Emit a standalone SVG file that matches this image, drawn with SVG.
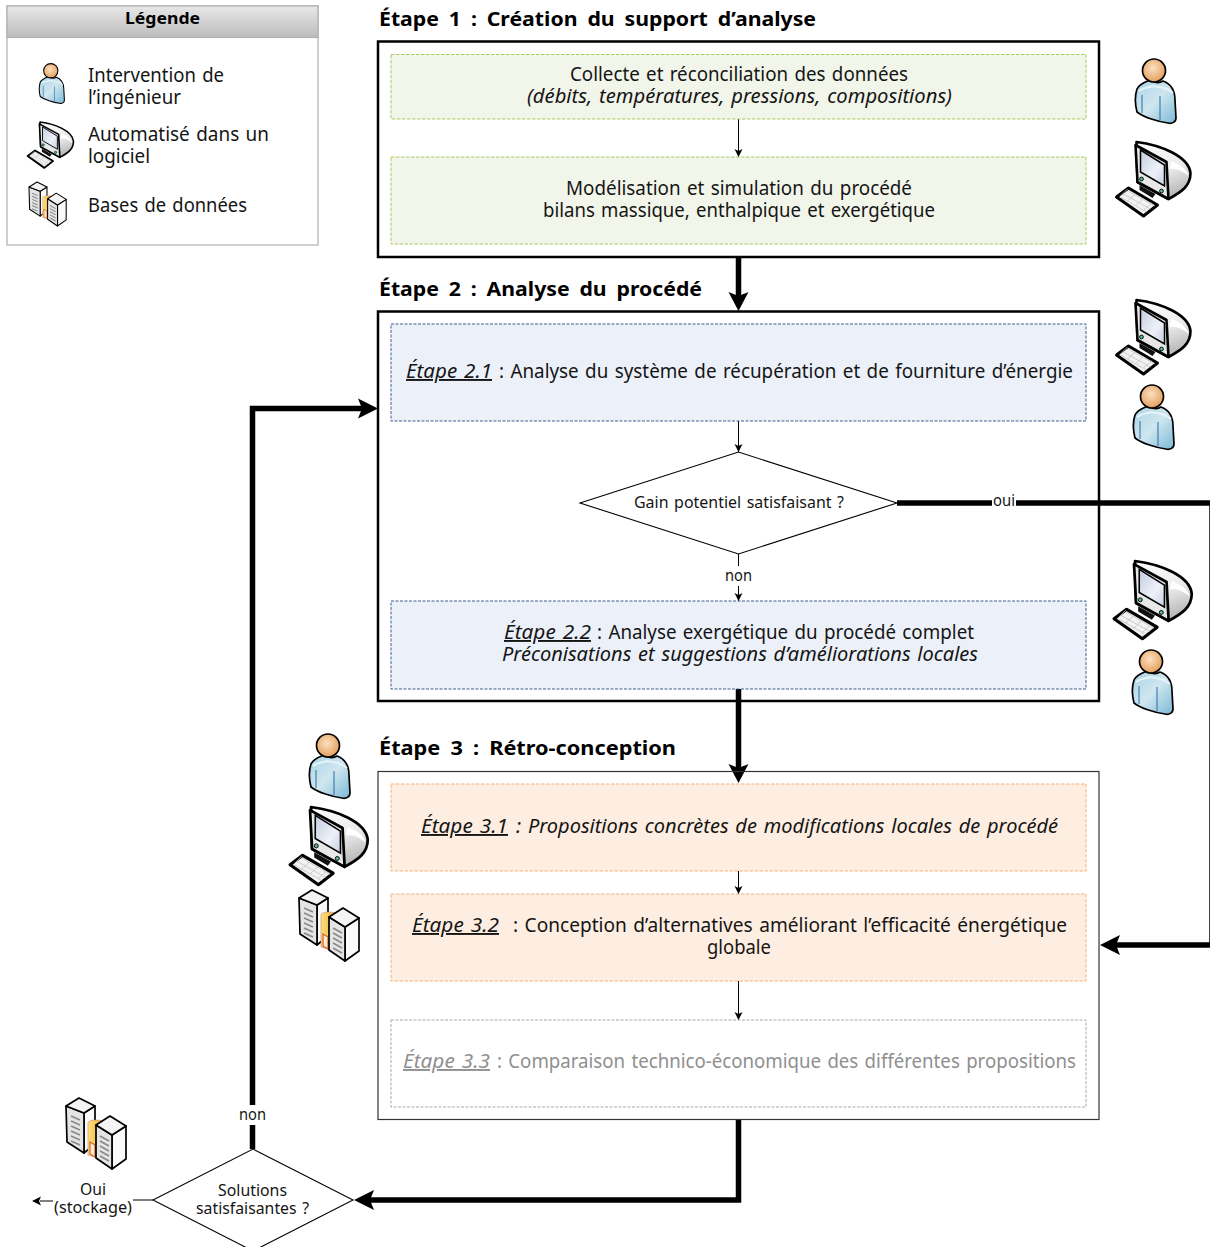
<svg xmlns="http://www.w3.org/2000/svg" width="1210" height="1247" viewBox="0 0 1210 1247">
<style>
text{font-family:"Noto Sans","DejaVu Sans",sans-serif;font-size:19px;fill:#151515;word-spacing:1.5px}
.h{font-weight:700;font-size:19.500px;word-spacing:4px;fill:#000}
.i{font-style:italic}
.u{font-style:italic;text-decoration:underline}
.s{font-size:16px}
.m{text-anchor:middle}
.g{fill:#8f8f8f}
.stage{fill:none;stroke:#000;stroke-width:2.500}
.gr{fill:#f2f5ea;stroke:#a9cc5f;stroke-width:1;stroke-dasharray:3.500 1.500}
.bl{fill:#ecf1f9;stroke:#3f5f90;stroke-width:1;stroke-dasharray:3 1.500}
.or{fill:#fdeee1;stroke:#f6b27a;stroke-width:1;stroke-dasharray:3.500 1.500}
.gy{fill:#fff;stroke:#aaa;stroke-width:1;stroke-dasharray:3 1.500}
.d{fill:#fff;stroke:#000;stroke-width:1.100}
.thin{fill:none;stroke:#000;stroke-width:1;marker-end:url(#a)}
.line{fill:none;stroke:#000;stroke-width:1}
.thick{fill:none;stroke:#000;stroke-width:5.500}
.big{fill:#000}
.o{stroke:#000;stroke-width:1.700;stroke-linejoin:round}
.slat{stroke:#8a8a8a;stroke-width:1.700;fill:none}
</style>
<defs>
<marker id="a" markerWidth="10" markerHeight="10" refX="8" refY="4" orient="auto" markerUnits="userSpaceOnUse"><path d="M0 0L8 4L0 8L2 4Z" fill="#000"/></marker>
<linearGradient id="hd" x1="0" y1="0" x2="0" y2="1"><stop offset="0" stop-color="#e8e8e8"/><stop offset="1" stop-color="#bcbcbc"/></linearGradient>
<radialGradient id="skin" cx=".45" cy=".4" r=".65"><stop offset="0" stop-color="#fbe0c0"/><stop offset="1" stop-color="#e39a55"/></radialGradient>
<linearGradient id="shirt" x1="0" y1="0" x2="1" y2="1"><stop offset="0" stop-color="#a9d4e6"/><stop offset=".5" stop-color="#cfe6ef"/><stop offset="1" stop-color="#7ab8d6"/></linearGradient>
<linearGradient id="shell" x1="0" y1="0" x2=".35" y2="1"><stop offset="0" stop-color="#fff"/><stop offset=".6" stop-color="#ececec"/><stop offset="1" stop-color="#bdbdbd"/></linearGradient>
<linearGradient id="scr" x1="0" y1="0" x2="1" y2="1"><stop offset="0" stop-color="#c3cbe0"/><stop offset=".6" stop-color="#eef1f8"/><stop offset="1" stop-color="#c6cfe2"/></linearGradient>
<linearGradient id="yel" x1="0" y1="0" x2="1" y2="0"><stop offset="0" stop-color="#fde07a"/><stop offset="1" stop-color="#f0a92c"/></linearGradient>
<symbol id="person" viewBox="0 0 42 66" width="42" height="66" overflow="visible">
<path class="o" fill="url(#shirt)" d="M2 31C4 26 10 24 15 22C20 25 25 25 28 23C36 26 40 32 40 42L41 60C41 64 37 66 33 65C24 64 8 59 2 54C0 46 0 37 2 31Z"/>
<path d="M4 33C10 28 14 30 18 28C24 30 30 28 38 35" stroke="#e6f3f8" stroke-width="2" fill="none"/>
<circle class="o" cx="19" cy="12.500" r="11.500" fill="url(#skin)"/>
<path d="M7 37V55M25 38V62" stroke="#2b6d9e" stroke-width="1" fill="none"/>
</symbol>
<symbol id="computer" viewBox="0 0 75 75" width="75" height="75" overflow="visible">
<path d="M1 55L13 46L42 63L28 74Z" fill="#f2f2f2" stroke="#000" stroke-width="3" stroke-linejoin="round"/>
<path d="M8 52L35 67M13 49L39 64M5 55L31 70M12 47L5 54M20 52L12 59M28 56L20 64M36 61L28 68" stroke="#c4c4c4" stroke-width=".8" fill="none"/>
<path d="M24 43L40 52L37 56L24 48Z" fill="#111"/>
<path d="M21 0C45 3 73 14 75 31C75 44 66 50 53 57L22 40Z" fill="url(#shell)" stroke="#000" stroke-width="2.600" stroke-linejoin="round"/>
<path d="M56 19C64 22 72 27 73 34C66 28 60 26 54 27Z" fill="#fff"/>
<path d="M20 3L51 20L53 57L22 40Z" fill="#e8e8e8" stroke="#000" stroke-width="2.600" stroke-linejoin="round"/>
<path d="M25 8L49 23L49 44L25 30Z" fill="url(#scr)" stroke="#000" stroke-width="1.500"/>
<circle cx="26" cy="37" r="1.900" fill="#5b9" stroke="#000" stroke-width=".9"/><circle cx="46" cy="49" r="1.900" fill="#5b9" stroke="#000" stroke-width=".9"/>
</symbol>
<symbol id="db" viewBox="0 0 60 72" width="60" height="72" overflow="visible">
<path class="o" fill="#fafafa" d="M18 15L29 8V46L18 55Z"/>
<path class="o" fill="#e4e4e4" d="M0 8L18 15V55L1 44Z"/>
<path class="o" fill="#f4f4f4" d="M0 8L13 0L29 8L18 15Z"/>
<path class="slat" d="M5 18L14 22M5 23L14 27M5 28L14 32M5 33L14 37M5 38L14 42M5 43L14 47"/>
<path d="M22 25C22 21 38 21 38 25V62L22 57Z" fill="url(#yel)" stroke="#b88" stroke-width=".6"/>
<path d="M24 44L29 47V59L24 56Z" fill="#fde9d0" stroke="#d8602a" stroke-width="1.200"/>
<path class="o" fill="#fafafa" d="M46 37L60 28V61L46 71Z"/>
<path class="o" fill="#e4e4e4" d="M30 27L46 37V71L30 60Z"/>
<path class="o" fill="#f4f4f4" d="M30 27L44 18L60 28L46 37Z"/>
<path class="slat" d="M34 38L43 43M34 43L43 48M34 48L43 53M34 53L43 58M34 58L43 63"/>
</symbol>
</defs>
<rect width="1210" height="1247" fill="#fff"/>

<g id="legend">
<rect x="7" y="6" width="311" height="239" fill="#fff" stroke="#b0b0b0" stroke-width="1.200"/>
<rect x="7" y="6" width="311" height="31.500" fill="url(#hd)" stroke="#b0b0b0" stroke-width="1.200"/>
<text class="h m" x="162.500" y="23.500" style="font-size:15.500px" textLength="75" lengthAdjust="spacingAndGlyphs">Légende</text>
<use href="#person" transform="translate(39,63) scale(.62)"/>
<use href="#computer" transform="translate(27,122) scale(.62)"/>
<use href="#db" transform="translate(29,182) scale(.62)"/>
<text x="88" y="82" textLength="136" lengthAdjust="spacingAndGlyphs">Intervention de</text>
<text x="88" y="104" textLength="93" lengthAdjust="spacingAndGlyphs">l’ingénieur</text>
<text x="88" y="141" textLength="181" lengthAdjust="spacingAndGlyphs">Automatisé dans un</text>
<text x="88" y="163" textLength="62" lengthAdjust="spacingAndGlyphs">logiciel</text>
<text x="88" y="212" textLength="159" lengthAdjust="spacingAndGlyphs">Bases de données</text>
</g>

<g id="connectors">
<path class="thin" d="M738.500 119V157"/>
<path class="thin" d="M738.500 421V452"/>
<path class="line" d="M738.500 554V566"/>
<path class="thin" d="M738.500 586V601"/>
<path class="thin" d="M738.500 871V894"/>
<path class="thin" d="M738.500 981V1020"/>
<path class="thick" d="M738.500 257V296"/><path class="big" d="M728.500 292L738.500 311L748.500 292L738.500 296Z"/>
<path class="thick" d="M738.500 689V768"/><path class="big" d="M728.500 764L738.500 783L748.500 764L738.500 768Z"/>
<path class="thick" d="M897 503H992"/>
<path class="thick" d="M1016 503H1212V945H1116"/><path class="big" d="M1120 935L1100 945L1120 955L1116 945Z"/>
<path class="thick" d="M252.500 1149V1125"/>
<path class="thick" d="M252.500 1105V408.500H362"/><path class="big" d="M358 398.500L378 408.500L358 418.500L362 408.500Z"/>
<path class="thick" d="M738.500 1119V1200H370"/><path class="big" d="M374 1190L354 1200L374 1210L370 1200Z"/>
<path class="line" d="M153 1200H133"/>
<path class="line" d="M53 1201H40"/><path class="big" d="M41 1196.500L32 1201L41 1205.500L39 1201Z"/>
</g>

<g id="stage1">
<text class="h" x="379" y="26" textLength="437" lengthAdjust="spacingAndGlyphs">Étape 1 : Création du support d’analyse</text>
<rect class="stage" x="378" y="41.500" width="721" height="215.500"/>
</g>
<g id="step-collect">
<rect class="gr" x="391" y="54.500" width="695" height="64.500"/>
<text x="570" y="81" textLength="338" lengthAdjust="spacingAndGlyphs">Collecte et réconciliation des données</text>
<text class="i" x="527" y="103" textLength="425" lengthAdjust="spacingAndGlyphs">(débits, températures, pressions, compositions)</text>
</g>
<g id="step-model">
<rect class="gr" x="391" y="157" width="695" height="87"/>
<text x="566" y="195" textLength="346" lengthAdjust="spacingAndGlyphs">Modélisation et simulation du procédé</text>
<text x="543" y="217" textLength="392" lengthAdjust="spacingAndGlyphs">bilans massique, enthalpique et exergétique</text>
</g>
<g id="stage2">
<text class="h" x="379" y="296" textLength="323" lengthAdjust="spacingAndGlyphs">Étape 2 : Analyse du procédé</text>
<rect class="stage" x="378" y="311.500" width="721" height="389.500"/>
</g>
<g id="step-2-1">
<rect class="bl" x="391" y="324" width="695" height="97"/>
<text class="u" x="406" y="378" textLength="86" lengthAdjust="spacingAndGlyphs">Étape 2.1</text>
<text x="499" y="378" textLength="574" lengthAdjust="spacingAndGlyphs">: Analyse du système de récupération et de fourniture d’énergie</text>
</g>
<g id="decision-gain">
<path class="d" d="M580 503L738.500 452L897 503L738.500 554Z"/>
<text x="634" y="508" style="font-size:16.500px" textLength="210" lengthAdjust="spacingAndGlyphs">Gain potentiel satisfaisant ?</text>
</g>
<text class="s" x="725" y="581" textLength="27" lengthAdjust="spacingAndGlyphs">non</text>
<text class="s" x="993" y="506" textLength="22" lengthAdjust="spacingAndGlyphs">oui</text>
<g id="step-2-2">
<rect class="bl" x="391" y="601" width="695" height="88"/>
<text class="u" x="504" y="639" textLength="87" lengthAdjust="spacingAndGlyphs">Étape 2.2</text>
<text x="597" y="639" textLength="377" lengthAdjust="spacingAndGlyphs">: Analyse exergétique du procédé complet</text>
<text class="i" x="502" y="661" textLength="476" lengthAdjust="spacingAndGlyphs">Préconisations et suggestions d’améliorations locales</text>
</g>
<g id="stage3">
<text class="h" x="379" y="755" textLength="297" lengthAdjust="spacingAndGlyphs">Étape 3 : Rétro-conception</text>
<rect x="378" y="771.500" width="721" height="348" fill="none" stroke="#333" stroke-width="1.200"/>
</g>
<g id="step-3-1">
<rect class="or" x="391" y="784" width="695" height="87"/>
<text class="u" x="421" y="833" textLength="87" lengthAdjust="spacingAndGlyphs">Étape 3.1</text>
<text class="i" x="516" y="833" textLength="542" lengthAdjust="spacingAndGlyphs">: Propositions concrètes de modifications locales de procédé</text>
</g>
<g id="step-3-2">
<rect class="or" x="391" y="894" width="695" height="87"/>
<text class="u" x="412" y="932" textLength="87" lengthAdjust="spacingAndGlyphs">Étape 3.2</text>
<text x="513" y="932" textLength="554" lengthAdjust="spacingAndGlyphs">: Conception d’alternatives améliorant l’efficacité énergétique</text>
<text x="707" y="954" textLength="64" lengthAdjust="spacingAndGlyphs">globale</text>
</g>
<g id="step-3-3">
<rect class="gy" x="391" y="1020" width="695" height="87"/>
<text class="u g" x="403" y="1068" textLength="87" lengthAdjust="spacingAndGlyphs">Étape 3.3</text>
<text class="g" x="497" y="1068" textLength="579" lengthAdjust="spacingAndGlyphs">: Comparaison technico-économique des différentes propositions</text>
</g>
<g id="decision-solutions">
<path class="d" d="M153 1200L253 1149L353 1200L253 1251Z"/>
<text x="218" y="1196" style="font-size:16.500px" textLength="69" lengthAdjust="spacingAndGlyphs">Solutions</text>
<text x="196" y="1214" style="font-size:16.500px" textLength="113" lengthAdjust="spacingAndGlyphs">satisfaisantes ?</text>
</g>
<text class="s" x="239" y="1120" textLength="27" lengthAdjust="spacingAndGlyphs">non</text>
<g id="storage">
<use href="#db" x="66" y="1098"/>
<text x="80" y="1195" style="font-size:16.500px" textLength="26" lengthAdjust="spacingAndGlyphs">Oui</text>
<text x="54" y="1213" style="font-size:16.500px" textLength="78" lengthAdjust="spacingAndGlyphs">(stockage)</text>
</g>
<g id="icons">
<use href="#person" x="1135" y="58"/>
<use href="#computer" x="1115.500" y="142"/>
<use href="#computer" x="1115.500" y="300"/>
<use href="#person" x="1133" y="384"/>
<use href="#computer" transform="translate(1113,561) scale(1.050)"/>
<use href="#person" x="1132" y="649"/>
<use href="#person" x="309" y="733"/>
<use href="#computer" transform="translate(289,807) scale(1.050)"/>
<use href="#db" x="299" y="890"/>
</g>
</svg>
